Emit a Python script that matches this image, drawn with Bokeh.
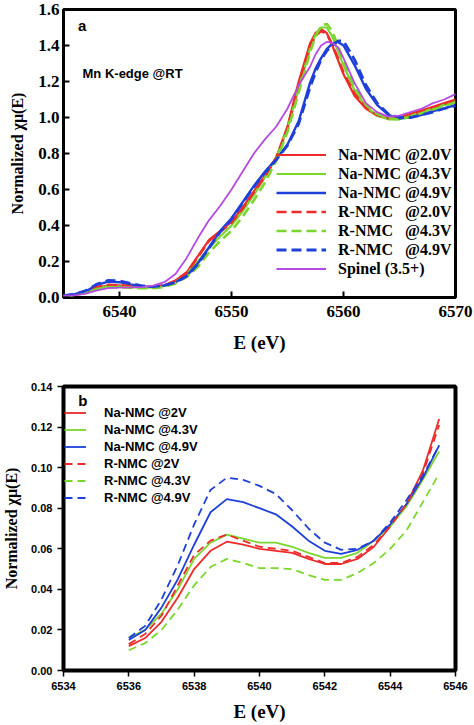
from bokeh.plotting import figure
from bokeh.layouts import column
from bokeh.models import FixedTicker, PrintfTickFormatter, Label, Legend, LegendItem, Range1d
from bokeh.embed import file_html
from bokeh.resources import INLINE

# ---------------- Panel a data ----------------
energy_a = [6535, 6536, 6537, 6538, 6539, 6540, 6541, 6542, 6543, 6544, 6545, 6546, 6547,
            6548, 6549, 6550, 6551, 6552, 6553, 6554, 6555, 6556, 6557, 6557.5, 6558,
            6558.5, 6559, 6559.5, 6560, 6561, 6562, 6563, 6564, 6565, 6566, 6567, 6568,
            6569, 6570]
na_nmc_20 = [0.010, 0.015, 0.030, 0.055, 0.068, 0.067, 0.062, 0.058, 0.059, 0.068, 0.095, 0.140,
             0.230, 0.320, 0.370, 0.420, 0.500, 0.590, 0.680, 0.780, 0.950, 1.200, 1.410, 1.470,
             1.490, 1.470, 1.400, 1.320, 1.240, 1.120, 1.050, 1.010, 0.995, 1.000, 1.020, 1.040,
             1.060, 1.080, 1.100]
na_nmc_43 = [0.010, 0.015, 0.028, 0.050, 0.063, 0.062, 0.058, 0.055, 0.056, 0.064, 0.085, 0.130,
             0.200, 0.275, 0.340, 0.400, 0.480, 0.570, 0.670, 0.780, 0.940, 1.160, 1.380, 1.460,
             1.500, 1.500, 1.450, 1.370, 1.290, 1.150, 1.060, 1.010, 0.990, 0.990, 1.010, 1.030,
             1.050, 1.070, 1.090]
na_nmc_49 = [0.010, 0.018, 0.035, 0.070, 0.088, 0.085, 0.072, 0.062, 0.060, 0.067, 0.085, 0.120,
             0.190, 0.280, 0.370, 0.440, 0.530, 0.620, 0.700, 0.770, 0.850, 0.980, 1.190, 1.270,
             1.330, 1.380, 1.410, 1.420, 1.400, 1.290, 1.160, 1.070, 1.015, 0.995, 1.000, 1.015,
             1.035, 1.050, 1.070]
r_nmc_20 = [0.010, 0.016, 0.032, 0.058, 0.070, 0.068, 0.063, 0.058, 0.058, 0.066, 0.092, 0.138,
            0.225, 0.315, 0.365, 0.415, 0.495, 0.585, 0.675, 0.775, 0.940, 1.180, 1.390, 1.455,
            1.480, 1.465, 1.405, 1.330, 1.250, 1.130, 1.055, 1.015, 0.995, 0.995, 1.015, 1.035,
            1.055, 1.075, 1.095]
r_nmc_43 = [0.010, 0.014, 0.026, 0.047, 0.058, 0.057, 0.054, 0.051, 0.052, 0.058, 0.078, 0.115,
            0.170, 0.250, 0.315, 0.370, 0.450, 0.540, 0.640, 0.760, 0.920, 1.140, 1.360, 1.450,
            1.510, 1.520, 1.480, 1.400, 1.320, 1.170, 1.070, 1.020, 0.995, 0.990, 1.005, 1.025,
            1.045, 1.065, 1.085]
r_nmc_49 = [0.010, 0.019, 0.038, 0.075, 0.095, 0.092, 0.078, 0.065, 0.061, 0.067, 0.084, 0.118,
            0.185, 0.275, 0.365, 0.435, 0.525, 0.615, 0.695, 0.765, 0.845, 0.965, 1.165, 1.250,
            1.320, 1.370, 1.400, 1.425, 1.425, 1.320, 1.180, 1.080, 1.020, 1.000, 1.000, 1.015,
            1.030, 1.050, 1.065]
spinel = [0.010, 0.012, 0.022, 0.040, 0.052, 0.055, 0.056, 0.058, 0.066, 0.085, 0.130, 0.220,
          0.330, 0.430, 0.510, 0.600, 0.700, 0.800, 0.880, 0.950, 1.050, 1.180, 1.280, 1.350,
          1.400, 1.420, 1.415, 1.390, 1.330, 1.190, 1.080, 1.030, 1.005, 1.010, 1.030, 1.050,
          1.080, 1.100, 1.130]

labels_a = ["Na-NMC @2.0V", "Na-NMC @4.3V", "Na-NMC @4.9V",
            "R-NMC\u00a0\u00a0\u00a0@2.0V", "R-NMC\u00a0\u00a0\u00a0@4.3V",
            "R-NMC\u00a0\u00a0\u00a0@4.9V", "Spinel (3.5+)"]
xticks_a = [6540, 6550, 6560, 6570]
yticks_a = [0.0, 0.2, 0.4, 0.6, 0.8, 1.0, 1.2, 1.4, 1.6]

# ---------------- Panel b data ----------------
energy_b = [6536, 6536.5, 6537, 6537.5, 6538, 6538.5, 6539, 6539.5, 6540, 6540.5,
            6541, 6541.5, 6542, 6542.5, 6543, 6543.5, 6544, 6544.5, 6545, 6545.5]
na_nmc_2v_b = [0.012, 0.016, 0.024, 0.036, 0.050, 0.059, 0.0635, 0.062, 0.060, 0.059,
               0.058, 0.055, 0.0525, 0.0525, 0.055, 0.061, 0.071, 0.082, 0.0985, 0.124]
na_nmc_43_b = [0.016, 0.020, 0.028, 0.040, 0.055, 0.063, 0.067, 0.065, 0.063, 0.063,
               0.061, 0.058, 0.0555, 0.0555, 0.058, 0.064, 0.071, 0.081, 0.094, 0.108]
na_nmc_49_b = [0.015, 0.020, 0.031, 0.045, 0.062, 0.078, 0.0845, 0.083, 0.080, 0.077,
               0.071, 0.064, 0.059, 0.0575, 0.0595, 0.064, 0.072, 0.082, 0.095, 0.111]
r_nmc_2v_b = [0.013, 0.018, 0.027, 0.042, 0.057, 0.064, 0.067, 0.064, 0.061, 0.060,
              0.059, 0.056, 0.053, 0.053, 0.056, 0.062, 0.071, 0.082, 0.097, 0.121]
r_nmc_43_b = [0.010, 0.0135, 0.020, 0.030, 0.042, 0.051, 0.055, 0.053, 0.0505, 0.0505,
              0.050, 0.047, 0.0447, 0.0447, 0.048, 0.053, 0.060, 0.069, 0.083, 0.097]
r_nmc_49_b = [0.016, 0.022, 0.035, 0.052, 0.072, 0.089, 0.095, 0.094, 0.091, 0.087,
              0.079, 0.070, 0.063, 0.0595, 0.060, 0.064, 0.073, 0.084, 0.096, 0.111]

labels_b = ["Na-NMC @2V", "Na-NMC @4.3V", "Na-NMC @4.9V",
            "R-NMC @2V", "R-NMC @4.3V", "R-NMC @4.9V"]
xticks_b = [6534, 6536, 6538, 6540, 6542, 6544, 6546]
yticks_b = [0.00, 0.02, 0.04, 0.06, 0.08, 0.10, 0.12, 0.14]

RED = "#ee2b2b"
GREEN = "#7ad62c"
BLUE = "#1e40d8"
PURPLE = "#b64be2"

SERIF = "Liberation Serif"
SANS = "Liberation Sans"

# ================= Panel a =================
pa = figure(width=474, height=365, output_backend="svg", toolbar_location=None,
            x_range=Range1d(6535, 6570), y_range=Range1d(0, 1.6),
            min_border_left=62, min_border_right=19, min_border_top=9, min_border_bottom=68)
pa.grid.visible = False
pa.outline_line_color = "black"
pa.outline_line_width = 3
pa.outline_line_alpha = 1
pa.background_fill_color = "white"
pa.border_fill_color = "white"

for ax in (pa.xaxis[0], pa.yaxis[0]):
    ax.axis_line_color = None
    ax.major_tick_in = 6
    ax.major_tick_out = 0
    ax.major_tick_line_width = 2
    ax.minor_tick_line_color = None
    ax.major_label_text_font = SERIF
    ax.major_label_text_font_style = "bold"
    ax.major_label_text_font_size = "17px"
    ax.major_label_text_color = "black"
    ax.axis_label_text_font = SERIF
    ax.axis_label_text_font_style = "bold"
    ax.axis_label_text_color = "black"
pa.xaxis.ticker = FixedTicker(ticks=xticks_a)
pa.yaxis.ticker = FixedTicker(ticks=yticks_a)
pa.yaxis.formatter = PrintfTickFormatter(format="%.1f")
pa.xaxis.major_label_standoff = 8
pa.yaxis.major_label_standoff = 4
pa.xaxis.axis_label = "E (eV)"
pa.yaxis.axis_label = "Normalized \u03c7\u03bc(E)"
pa.xaxis.axis_label_text_font_size = "19px"
pa.yaxis.axis_label_text_font_size = "16px"
pa.xaxis.axis_label_standoff = 12
pa.yaxis.axis_label_standoff = 9

series_a = [na_nmc_20, na_nmc_43, na_nmc_49, r_nmc_20, r_nmc_43, r_nmc_49, spinel]
colors_a = [RED, GREEN, BLUE, RED, GREEN, BLUE, PURPLE]
dashes_a = ["solid", "solid", "solid", "10 5", "10 5", "10 5", "solid"]
widths_a = [2.2, 2.2, 2.4, 2.6, 2.6, 2.8, 1.8]
items_a = []
for ys, c, d, w, lab in zip(series_a, colors_a, dashes_a, widths_a, labels_a):
    r = pa.line(energy_a, ys, line_color=c, line_dash=d, line_width=w)
    items_a.append(LegendItem(label=lab, renderers=[r]))

leg_a = Legend(items=items_a, location=(213, 19), border_line_color=None,
               background_fill_alpha=0, padding=0, margin=0, spacing=0,
               glyph_height=19, label_height=19, glyph_width=50, label_standoff=12,
               label_text_font=SERIF, label_text_font_style="bold",
               label_text_font_size="16px", label_text_color="black")
pa.add_layout(leg_a, "center")

pa.add_layout(Label(x=6536.3, y=1.51, text="a", text_font=SANS, text_font_style="bold",
                    text_font_size="15px", text_baseline="middle", text_color="black"))
pa.add_layout(Label(x=6536.7, y=1.245, text="Mn K-edge @RT", text_font=SANS,
                    text_font_style="bold", text_font_size="13px", text_baseline="middle",
                    text_color="black"))

# ================= Panel b =================
pb = figure(width=474, height=360, output_backend="svg", toolbar_location=None,
            x_range=Range1d(6534, 6546), y_range=Range1d(0, 0.14),
            min_border_left=62, min_border_right=15, min_border_top=21, min_border_bottom=55)
pb.margin = (0, 0, -16, 0)
pb.grid.visible = False
pb.outline_line_color = "black"
pb.outline_line_width = 4
pb.background_fill_color = "white"
pb.border_fill_color = "white"
for ax in (pb.xaxis[0], pb.yaxis[0]):
    ax.axis_line_color = None
    ax.major_tick_in = 0
    ax.major_tick_out = 6
    ax.major_tick_line_width = 1.5
    ax.minor_tick_line_color = None
    ax.major_label_text_font = SANS
    ax.major_label_text_font_style = "bold"
    ax.major_label_text_font_size = "11px"
    ax.major_label_text_color = "black"
    ax.axis_label_text_font = SERIF
    ax.axis_label_text_font_style = "bold"
    ax.axis_label_text_color = "black"
pb.xaxis.ticker = FixedTicker(ticks=xticks_b)
pb.yaxis.ticker = FixedTicker(ticks=yticks_b)
pb.yaxis.formatter = PrintfTickFormatter(format="%.2f")
pb.xaxis.major_label_standoff = 5
pb.yaxis.major_label_standoff = 5
pb.xaxis.axis_label = "E (eV)"
pb.yaxis.axis_label = "Normalized \u03c7\u03bc(E)"
pb.xaxis.axis_label_text_font_size = "19px"
pb.yaxis.axis_label_text_font_size = "16px"
pb.xaxis.axis_label_standoff = 8
pb.yaxis.axis_label_standoff = 8

series_b = [na_nmc_2v_b, na_nmc_43_b, na_nmc_49_b, r_nmc_2v_b, r_nmc_43_b, r_nmc_49_b]
colors_b = [RED, GREEN, BLUE, RED, GREEN, BLUE]
dashes_b = ["solid", "solid", "solid", "8 5", "8 5", "8 5"]
items_b = []
for ys, c, d, lab in zip(series_b, colors_b, dashes_b, labels_b):
    r = pb.line(energy_b, ys, line_color=c, line_dash=d, line_width=1.8)
    items_b.append(LegendItem(label=lab, renderers=[r]))

leg_b = Legend(items=items_b, location=(1, 164), border_line_color=None,
               background_fill_alpha=0, padding=0, margin=0, spacing=0,
               glyph_height=17, label_height=17, glyph_width=22, label_standoff=18,
               label_text_font=SANS, label_text_font_style="bold",
               label_text_font_size="13px", label_text_color="black")
pb.add_layout(leg_b, "center")

pb.add_layout(Label(x=6534.45, y=0.133, text="b", text_font=SANS, text_font_style="bold",
                    text_font_size="15px", text_baseline="middle", text_color="black"))

layout = column(pa, pb, spacing=0)
open("out.html", "w").write(file_html(layout, INLINE))
